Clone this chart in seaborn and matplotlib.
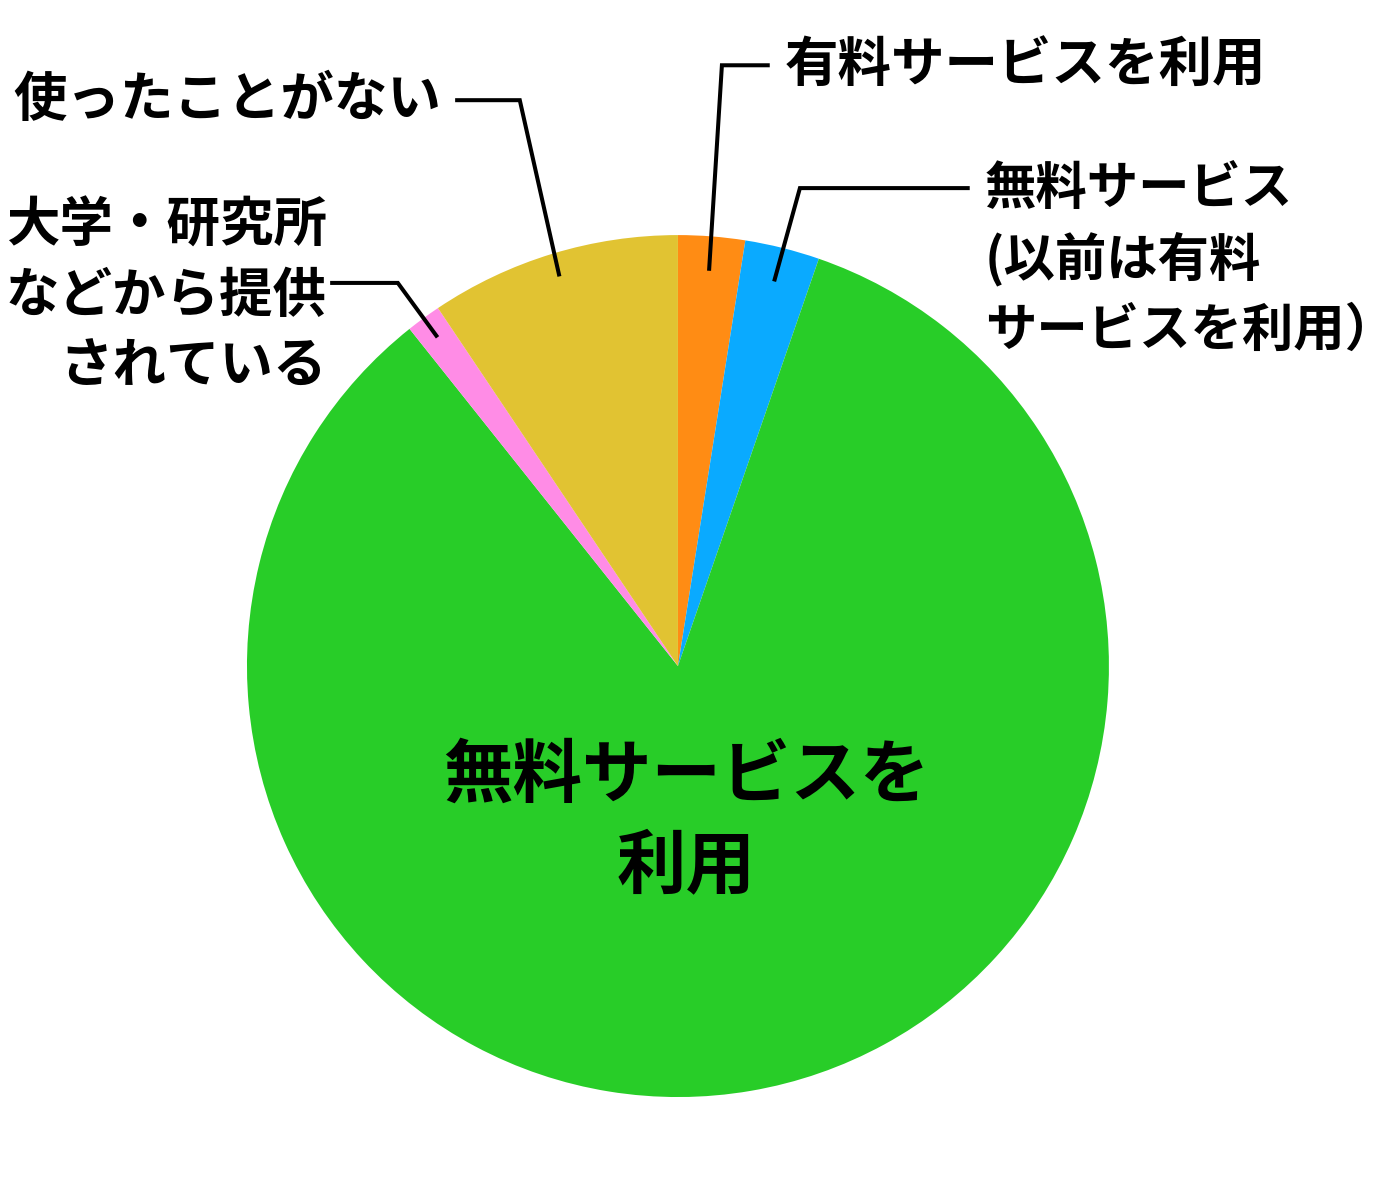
import numpy as np
import matplotlib
matplotlib.use("Agg")
import matplotlib.pyplot as plt
import seaborn as sns

# ---- data ----
categories = ["有料サービスを利用",
              "無料サービス\n(以前は有料\nサービスを利用）",
              "無料サービスを\n利用",
              "大学・研究所\nなどから提供\nされている",
              "使ったことがない"]
values = [2.5, 2.8, 84.0, 1.3, 9.4]
colors = ["#FF8C14", "#0AAAFF", "#28CD28", "#FF8CE6", "#E1C332"]

sns.set_theme(style="white")
plt.rcParams['font.family'] = ['Noto Sans CJK JP', 'DejaVu Sans']

fig = plt.figure(figsize=(14, 12), dpi=100)
ax = fig.add_axes([0.1764, 0.0858, 0.6157, 0.7183])
wedges, _ = ax.pie(values, colors=colors, startangle=90, counterclock=False,
                   radius=1.0, wedgeprops=dict(linewidth=0))
ax.set_xlim(-1, 1)
ax.set_ylim(-1, 1)
ax.set_aspect("equal")
ax.axis("off")

# external label layout: (elbow, end of line, text position, ha, fontsize)
layout = {
    0: ((0.102, 1.394), (0.213, 1.394), (0.248, 1.394), "left", 38.5),
    1: ((0.283, 1.109), (0.677, 1.109), (0.712, 0.944), "left", 37.0),
    3: ((-0.650, 0.889), (-0.807, 0.889), (-0.815, 0.858), "right", 38.5),
    4: ((-0.367, 1.313), (-0.517, 1.313), (-0.550, 1.313), "right", 38.5),
}
for i, (elbow, end, tpos, ha, fs) in layout.items():
    w = wedges[i]
    mid = np.deg2rad((w.theta1 + w.theta2) / 2)
    r_in = 0.92 if i < 2 else 0.945
    p0 = (r_in * np.cos(mid), r_in * np.sin(mid))
    ax.plot([p0[0], elbow[0], end[0]], [p0[1], elbow[1], end[1]],
            color="black", lw=2.9, clip_on=False, solid_capstyle="butt",
            solid_joinstyle="miter")
    ax.text(tpos[0], tpos[1], categories[i], ha=ha, va="center",
            fontsize=fs, fontweight="bold", color="black",
            linespacing=1.35 if fs > 38 else 1.40, multialignment=ha)

# center label for the big slice
ax.text(0.019, -0.361, categories[2], ha="center", va="center",
        fontsize=50, fontweight="bold", color="black", linespacing=1.36)

fig.savefig("out.png", dpi=100, facecolor="white")
